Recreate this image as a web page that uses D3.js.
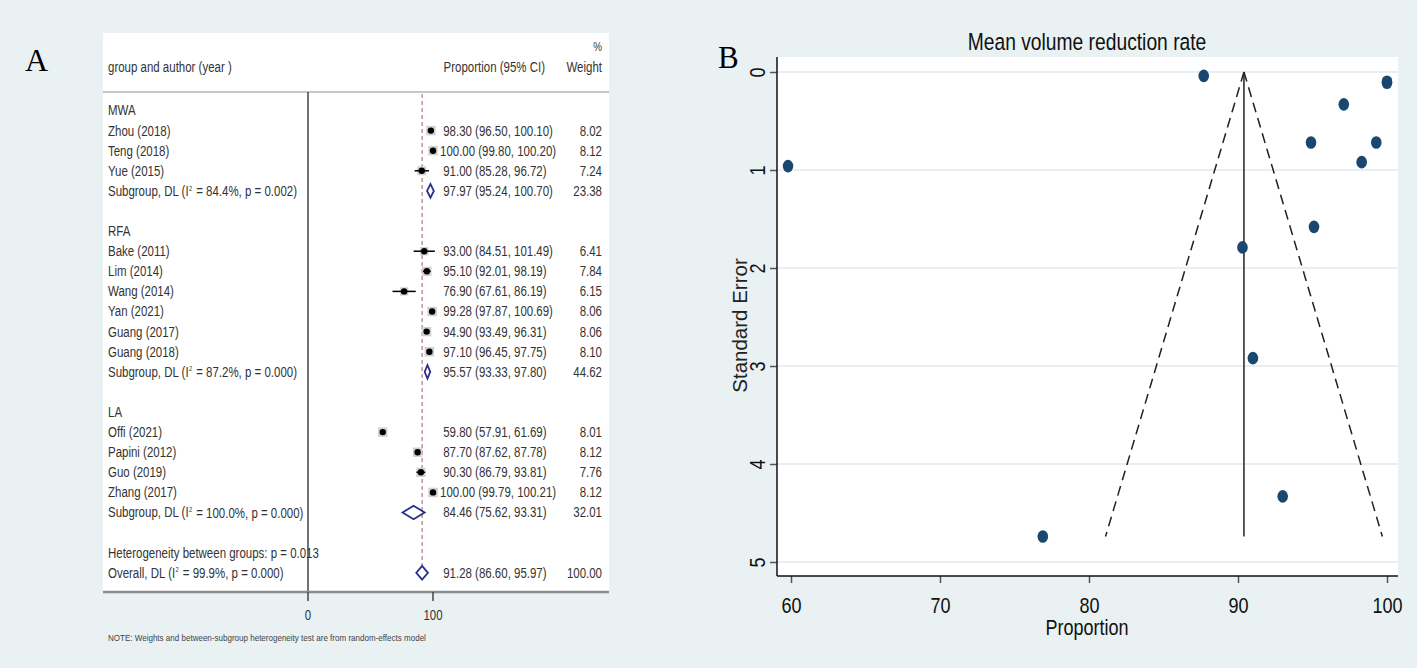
<!DOCTYPE html>
<html>
<head>
<meta charset="utf-8">
<script src="https://cdn.jsdelivr.net/npm/d3@7"></script>
<style>
  body { margin: 0; background: #e9f1f3; }
  text { white-space: pre; }
</style>
</head>
<body>
<div id="chart"></div>
<script>
// Data for panel A (forest plot)
const groups = ["MWA", "RFA", "LA"];
const studyNames = ["Zhou (2018)", "Teng (2018)", "Yue (2015)",
    "Bake (2011)", "Lim (2014)", "Wang (2014)", "Yan (2021)", "Guang (2017)", "Guang (2018)",
    "Offi (2021)", "Papini (2012)", "Guo (2019)", "Zhang (2017)"];
const studyGroup = ["MWA", "MWA", "MWA", "RFA", "RFA", "RFA", "RFA", "RFA", "RFA", "LA", "LA", "LA", "LA"];
const studyEst = [98.30, 100.00, 91.00, 93.00, 95.10, 76.90, 99.28, 94.90, 97.10, 59.80, 87.70, 90.30, 100.00];
const studyLo = [96.50, 99.80, 85.28, 84.51, 92.01, 67.61, 97.87, 93.49, 96.45, 57.91, 87.62, 86.79, 99.79];
const studyHi = [100.10, 100.20, 96.72, 101.49, 98.19, 86.19, 100.69, 96.31, 97.75, 61.69, 87.78, 93.81, 100.21];
const studyWeight = [8.02, 8.12, 7.24, 6.41, 7.84, 6.15, 8.06, 8.06, 8.10, 8.01, 8.12, 7.76, 8.12];

const groupEst = [97.97, 95.57, 84.46];
const groupLo = [95.24, 93.33, 75.62];
const groupHi = [100.70, 97.80, 93.31];
const groupWeight = [23.38, 44.62, 32.01];
const groupI2 = ["84.4%", "87.2%", "100.0%"];
const groupP = ["0.002", "0.000", "0.000"];

const overall = { est: 91.28, lo: 86.60, hi: 95.97, weight: 100.00, i2: "99.9%", p: "0.000" };
const hetP = "0.013";
const forestTicks = [0, 100];

// Data for panel B (funnel plot)
const funnelSE = [0.92, 0.10, 2.92, 4.33, 1.58, 4.74, 0.72, 0.72, 0.33, 0.96, 0.04, 1.79, 0.11];
const funnelPooled = 90.4;
const funnelMaxSE = 4.74;
const funnelXTicks = [60, 70, 80, 90, 100];
const funnelYTicks = [0, 1, 2, 3, 4, 5];

const W = 1417, H = 668;
const sans = "'Liberation Sans', Arial, sans-serif";
const serif = "'Liberation Serif', 'Times New Roman', serif";
const squeeze = 0.82; // fake Arial Narrow

const svg = d3.select("#chart").append("svg")
    .attr("width", W)
    .attr("height", H);

svg.append("rect").attr("width", W).attr("height", H).attr("fill", "#e9f1f3");

// narrow text helper
function ntext(g, str, x, y, size, anchor, color) {
    return g.append("text")
        .attr("transform", `translate(${x},${y}) scale(${squeeze},1)`)
        .attr("dy", "0.35em")
        .attr("text-anchor", anchor || "start")
        .attr("font-family", sans).attr("font-size", size)
        .attr("fill", color || "#333")
        .text(str);
}

// ---------- Panel A ----------
const A = svg.append("g");
const boxL = 103, boxR = 609, boxT = 33, axisY = 592;

A.append("rect")
    .attr("x", boxL).attr("y", boxT)
    .attr("width", boxR - boxL).attr("height", axisY - boxT)
    .attr("fill", "#fff");

A.append("text").text("A")
    .attr("x", 25).attr("y", 71)
    .attr("font-family", serif).attr("font-size", 32).attr("fill", "#000");

// build rows
const rows = [];
groups.forEach((g, gi) => {
    rows.push({ type: "header", label: g });
    studyNames.forEach((n, i) => {
        if (studyGroup[i] === g) rows.push({ type: "study", label: n, est: studyEst[i], lo: studyLo[i], hi: studyHi[i], w: studyWeight[i] });
    });
    rows.push({ type: "sub", label: "Subgroup, DL (I", i2: groupI2[gi], p: groupP[gi], est: groupEst[gi], lo: groupLo[gi], hi: groupHi[gi], w: groupWeight[gi] });
    rows.push({ type: "blank" });
});
rows.push({ type: "het", label: "Heterogeneity between groups: p = " + hetP });
rows.push({ type: "sub", label: "Overall, DL (I", i2: overall.i2, p: overall.p, est: overall.est, lo: overall.lo, hi: overall.hi, w: overall.weight });

const yRow = d3.scaleLinear().domain([0, rows.length - 1]).range([110.5, 572.8]);
const xF = d3.scaleLinear().domain([0, 100]).range([308, 433]);

const fs = 14;

// header
ntext(A, "%", 602, 47, 12, "end");
ntext(A, "group and author (year )", 108, 67, fs);
ntext(A, "Proportion (95% CI)", 545, 67, fs, "end");
ntext(A, "Weight", 602, 67, fs, "end");

A.append("line").attr("x1", boxL).attr("x2", boxR).attr("y1", 92).attr("y2", 92)
    .attr("stroke", "#b5b5b5").attr("stroke-width", 1.5);

// null line at 0
A.append("line").attr("x1", xF(0)).attr("x2", xF(0)).attr("y1", 92).attr("y2", axisY)
    .attr("stroke", "#444").attr("stroke-width", 1.5);

// overall dashed line
A.append("line").attr("x1", xF(overall.est)).attr("x2", xF(overall.est))
    .attr("y1", 94).attr("y2", yRow(rows.length - 1) - 7)
    .attr("stroke", "#a46f78").attr("stroke-width", 1.1).attr("stroke-dasharray", "4,3");

const fmt = d3.format(".2f");
const ciText = d => (d.est < 100 ? " " : "") + fmt(d.est) + " (" + fmt(d.lo) + ", " + fmt(d.hi) + ")";

rows.forEach((r, i) => {
    const y = yRow(i);
    if (r.type === "blank") return;
    if (r.type === "sub") {
        const lab = ntext(A, "", 108, y, fs);
        lab.append("tspan").text(r.label);
        lab.append("tspan").text("2").attr("font-size", 7).attr("dy", "-0.75em").attr("dx", 0.5);
        lab.append("tspan").text(" = " + r.i2 + ", p = " + r.p + ")").attr("dy", "0.4em").attr("dx", 1);
    } else {
        ntext(A, r.label, 108, y, fs);
    }
    if (r.type === "study" || r.type === "sub") {
        ntext(A, ciText(r), 440, y, fs);
        ntext(A, fmt(r.w), 602, y, fs, "end");
    }
    if (r.type === "study") {
        const s = Math.sqrt(r.w) * 3.3;
        A.append("rect").attr("x", xF(r.est) - s / 2).attr("y", y - s / 2)
            .attr("width", s).attr("height", s).attr("fill", "#cfcfcf");
        A.append("line").attr("x1", xF(r.lo)).attr("x2", xF(r.hi)).attr("y1", y).attr("y2", y)
            .attr("stroke", "#000").attr("stroke-width", 1.5);
        A.append("circle").attr("cx", xF(r.est)).attr("cy", y).attr("r", 3.2).attr("fill", "#000");
    }
    if (r.type === "sub") {
        const h = 6.8;
        const pts = [[xF(r.lo), y], [xF(r.est), y - h], [xF(r.hi), y], [xF(r.est), y + h]];
        A.append("path").attr("d", "M" + pts.join("L") + "Z")
            .attr("fill", "#fff").attr("stroke", "#28308c").attr("stroke-width", 1.8);
    }
});

// bottom axis
A.append("line").attr("x1", boxL).attr("x2", boxR).attr("y1", axisY).attr("y2", axisY)
    .attr("stroke", "#8c8c8c").attr("stroke-width", 2.5);
forestTicks.forEach(t => {
    A.append("line").attr("x1", xF(t)).attr("x2", xF(t)).attr("y1", axisY).attr("y2", axisY + 9)
        .attr("stroke", "#444").attr("stroke-width", 1.5);
    ntext(A, String(t), xF(t), 615, fs, "middle");
});

ntext(A, "NOTE: Weights and between-subgroup heterogeneity test are from random-effects model",
    108, 638, 9.8, "start", "#444");

// ---------- Panel B ----------
const B = svg.append("g");
const pL = 777, pR = 1398, pT = 57, pB = 576;
const xB = d3.scaleLinear().domain([60, 100]).range([791, 1387]);
const yB = d3.scaleLinear().domain([0, 5]).range([72, 562]);

B.append("rect").attr("x", pL).attr("y", pT).attr("width", pR - pL).attr("height", pB - pT).attr("fill", "#fff");

// gridlines
B.selectAll(".grid").data(funnelYTicks).enter().append("line")
    .attr("x1", pL).attr("x2", pR).attr("y1", d => yB(d)).attr("y2", d => yB(d))
    .attr("stroke", "#e6eff2").attr("stroke-width", 2);

// x axis
const xAxis = B.append("g").attr("transform", `translate(0,${pB})`)
    .call(d3.axisBottom(xB).tickValues(funnelXTicks).tickSize(7).tickPadding(14).tickSizeOuter(0));
xAxis.select(".domain").remove();
xAxis.selectAll("line").attr("stroke", "#555").attr("stroke-width", 1.5);
xAxis.selectAll("text").attr("font-family", sans).attr("font-size", 22).attr("fill", "#111")
    .attr("transform", `scale(${squeeze},1)`);

// y axis with rotated labels
const yAxis = B.append("g").attr("transform", `translate(${pL},0)`)
    .call(d3.axisLeft(yB).tickValues(funnelYTicks).tickSize(7).tickFormat(d3.format("d")).tickSizeOuter(0));
yAxis.select(".domain").remove();
yAxis.selectAll("line").attr("stroke", "#555").attr("stroke-width", 1.5);
yAxis.selectAll("text")
    .attr("font-family", sans).attr("font-size", 22).attr("fill", "#111")
    .attr("x", null).attr("dy", null)
    .attr("text-anchor", "middle")
    .attr("transform", `translate(-20,0) rotate(-90) scale(${squeeze},1)`)
    .attr("dominant-baseline", "central");

B.append("line").attr("x1", pL).attr("x2", pR).attr("y1", pB).attr("y2", pB).attr("stroke", "#111").attr("stroke-width", 1.5);
B.append("line").attr("x1", pL).attr("x2", pL).attr("y1", pT).attr("y2", pB).attr("stroke", "#111").attr("stroke-width", 1.5);

// funnel lines
B.append("line").attr("x1", xB(funnelPooled)).attr("x2", xB(funnelPooled))
    .attr("y1", yB(0)).attr("y2", yB(funnelMaxSE))
    .attr("stroke", "#222").attr("stroke-width", 1.5);
[-1.96, 1.96].forEach(z => {
    B.append("line").attr("x1", xB(funnelPooled)).attr("y1", yB(0))
        .attr("x2", xB(funnelPooled + z * funnelMaxSE)).attr("y2", yB(funnelMaxSE))
        .attr("stroke", "#222").attr("stroke-width", 1.5).attr("stroke-dasharray", "10,6");
});

// points
B.selectAll(".dot").data(studyEst).enter().append("ellipse")
    .attr("cx", d => xB(d)).attr("cy", (d, i) => yB(funnelSE[i]))
    .attr("rx", 5.3).attr("ry", 6.3)
    .attr("fill", "#1a476f");

// titles
ntext(B, "Mean volume reduction rate", 1087, 42, 23.5, "middle", "#111");
ntext(B, "Proportion", 1087, 627, 22, "middle", "#111");
B.append("text").text("Standard Error")
    .attr("transform", `translate(739,${(pT + pB) / 2 + 9}) rotate(-90)`)
    .attr("text-anchor", "middle").attr("dominant-baseline", "central")
    .attr("font-family", sans).attr("font-size", 20.5).attr("fill", "#222");

B.append("text").text("B")
    .attr("x", 718).attr("y", 68)
    .attr("font-family", serif).attr("font-size", 31).attr("fill", "#000");
</script>
</body>
</html>
